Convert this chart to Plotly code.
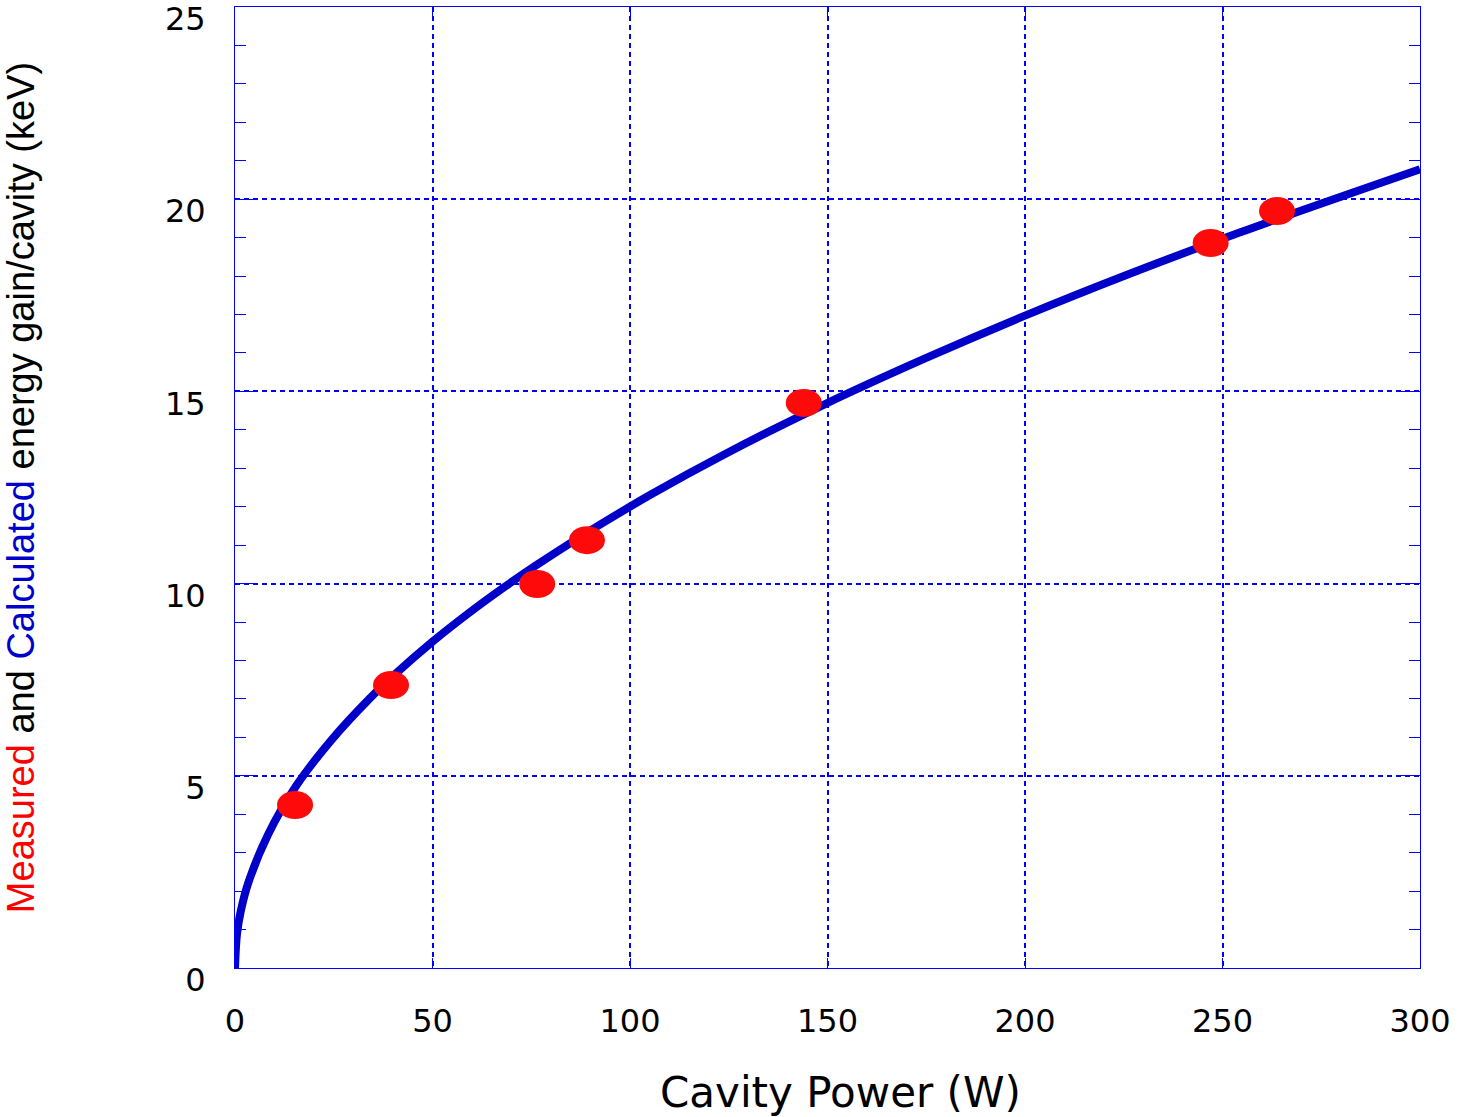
import plotly.graph_objects as go

# Calculated energy gain per cavity vs. cavity power (smooth curve)
calc_power = [0, 0.5, 1.5, 3.5, 8.5, 15.5, 24.5, 34, 40.5, 50, 59, 67.5, 76,
              84.5, 92.5, 105.5, 123.5, 149, 175, 200, 226.5, 254.5, 300]
calc_gain = [0, 0.88, 1.5, 2.26, 3.5, 4.74, 5.94, 7.0, 7.64, 8.49, 9.22, 9.86,
             10.46, 11.03, 11.54, 12.33, 13.34, 14.65, 15.87, 16.97, 18.06,
             19.14, 20.78]

# Measured energy gain per cavity
meas_power = [15.2, 39.5, 76.5, 89.1, 144.0, 247.0, 263.8]
meas_gain = [4.24, 7.36, 9.99, 11.13, 14.7, 18.86, 19.69]

x_ticks = [0, 50, 100, 150, 200, 250, 300]
y_ticks = [0, 5, 10, 15, 20, 25]

CURVE_BLUE = "#0000c8"
GRID_BLUE = "#0000ff"
RED = "#ff0a0a"
TITLE_FONT = "Liberation Sans, Arial, sans-serif"
WIDE_FONT = "DejaVu Sans, Verdana, sans-serif"

fig = go.Figure()

fig.add_trace(go.Scatter(
    x=calc_power, y=calc_gain, mode="lines",
    line=dict(color=CURVE_BLUE, width=8, shape="spline", smoothing=1.0),
    name="Calculated", showlegend=False,
))

# invisible points so the measured data can be hovered
fig.add_trace(go.Scatter(
    x=meas_power, y=meas_gain, mode="markers",
    marker=dict(color=RED, size=28, opacity=0),
    name="Measured", showlegend=False,
))

# measured points drawn as ellipses anchored at the data values
for p, g in zip(meas_power, meas_gain):
    fig.add_shape(
        type="circle", xref="x", yref="y",
        xsizemode="pixel", ysizemode="pixel",
        xanchor=p, yanchor=g,
        x0=-18, x1=18, y0=-14, y1=14,
        fillcolor=RED, line=dict(width=0), layer="above",
    )

axis_common = dict(
    showline=True, linecolor=GRID_BLUE, linewidth=1, mirror="ticks",
    showgrid=True, gridcolor=GRID_BLUE, gridwidth=1.6, griddash="5px,4px",
    zeroline=False, ticks="inside", tickcolor=GRID_BLUE, tickwidth=1,
    tickfont=dict(family=WIDE_FONT, size=32, color="black"),
)

fig.update_xaxes(
    **axis_common,
    range=[0, 300], tickvals=x_ticks, ticklen=10,
    ticklabelstandoff=25,
)

fig.update_yaxes(
    **axis_common,
    range=[0, 25], tickvals=y_ticks, ticklen=20,
    ticklabelstandoff=22, ticklabelshift=12,
    minor=dict(dtick=1, ticks="inside", ticklen=11, tickcolor=GRID_BLUE,
               showgrid=False),
    title=dict(
        text=("<span style='color:#ff0000'>Measured</span> and "
              "<span style='color:#0000cc'>Calculated</span> "
              "energy gain/cavity (keV)"),
        font=dict(family=TITLE_FONT, size=38, color="black"), standoff=118,
    ),
)

# x-axis title placed under the tick labels
fig.add_annotation(
    text="Cavity Power (W)", xref="paper", yref="paper",
    x=0.511, y=-0.13, xanchor="center", yanchor="middle", showarrow=False,
    font=dict(family=WIDE_FONT, size=42, color="black"),
)

fig.update_layout(
    width=1460, height=1117,
    margin=dict(l=235, r=40, t=7, b=149, autoexpand=False),
    plot_bgcolor="white", paper_bgcolor="white",
    showlegend=False,
)

fig.write_html("out.html")
